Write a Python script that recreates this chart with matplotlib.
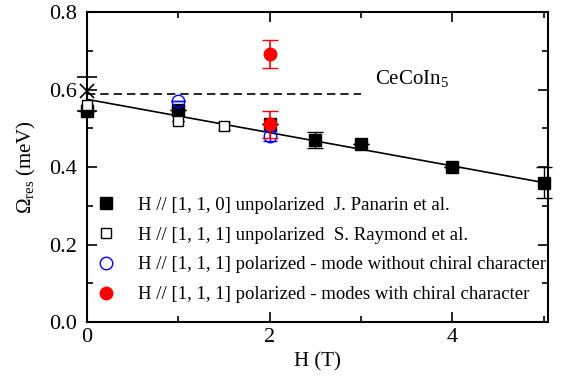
import numpy as np
import matplotlib.pyplot as plt

plt.rcParams['font.family'] = ['Liberation Serif', 'DejaVu Serif']
plt.rcParams['mathtext.fontset'] = 'custom'
plt.rcParams['mathtext.rm'] = 'Liberation Serif'
plt.rcParams['mathtext.it'] = 'Liberation Serif:italic'

# J. Panarin et al., H // [1,1,0] unpolarized
h_pan = [0, 1, 2, 2.5, 3, 4, 5]
w_pan = [0.545, 0.547, 0.512, 0.47, 0.459, 0.40, 0.36]
e_pan = [0, 0, 0, 0.02, 0, 0, 0.04]

# S. Raymond et al., H // [1,1,1] unpolarized
h_ray = [0, 1, 1.5]
w_ray = [0.56, 0.52, 0.507]
e_ray = [0, 0, 0.01]

# polarized, mode without chiral character
h_blue = [1, 2]
w_blue = [0.57, 0.48]
e_blue = [0, 0.012]

# polarized, modes with chiral character
h_red = [2, 2]
w_red = [0.692, 0.511]
e_red = [0.036, 0.035]

# zero field point (cross), lower error hidden behind the squares
h_x = [0]
w_x = [0.597]
e_x_low = [0.052]
e_x_up = [0.035]

# lines
fit_h = [0, 5]
fit_w = [0.575, 0.36]
dash_h = [0, 3]
dash_w = [0.588, 0.588]

fig = plt.figure(figsize=(5.61, 3.81), dpi=100)
ax = fig.add_axes([0.155, 0.155, 0.822, 0.813])

ax.plot(fit_h, fit_w, '-', color='k', lw=1.2)
ax.plot(dash_h, dash_w, '--', color='k', lw=1.2, dashes=(5, 3))

ax.errorbar(h_x, w_x, yerr=[e_x_low, e_x_up], fmt='x', color='k', ms=10, mew=1.2,
            capsize=7.5, elinewidth=1.2, clip_on=False, zorder=2)
ax.errorbar(h_pan, w_pan, yerr=e_pan, fmt='s', color='k', ms=8,
            capsize=6, elinewidth=1.0, clip_on=False, zorder=3,
            label='H // [1, 1, 0] unpolarized  J. Panarin et al.')
ax.errorbar(h_ray, w_ray, yerr=e_ray, fmt='s', color='k', mfc='white', ms=7.5,
            mew=1.0, capsize=4, elinewidth=1.0, clip_on=False, zorder=4,
            label='H // [1, 1, 1] unpolarized  S. Raymond et al.')
ax.errorbar(h_blue, w_blue, yerr=e_blue, fmt='o', color='blue', mfc='none',
            ms=9, mew=1.0, capsize=5, elinewidth=1.0, zorder=5,
            label='H // [1, 1, 1] polarized - mode without chiral character')
ax.errorbar(h_red, w_red, yerr=e_red, fmt='o', color='red', ms=9,
            capsize=6, elinewidth=1.2, zorder=6,
            label='H // [1, 1, 1] polarized - modes with chiral character')

ax.text(3.15, 0.63, 'CeCoIn$_5$', fontsize=15, ha='left', va='center')

handles, labels = ax.get_legend_handles_labels()
ax.legend([h[0] for h in handles], labels,
          loc='lower left', bbox_to_anchor=(0.0, 0.03), frameon=False,
          fontsize=13.5, handletextpad=1.2, labelspacing=0.68,
          handlelength=1.0, borderaxespad=0.3, borderpad=0.2)

ax.set_xlim(0, 5.05)
ax.set_ylim(0, 0.8)
ax.set_xticks([0, 2, 4])
ax.set_xticks([1, 3, 5], minor=True)
ax.set_yticks(np.arange(0, 0.81, 0.2))
ax.set_yticks(np.arange(0.1, 0.8, 0.2), minor=True)
ax.tick_params(which='both', direction='in', top=True, right=True, width=1.2)
ax.tick_params(which='major', length=7, labelsize=16, pad=7)
ax.tick_params(axis='x', which='major', pad=4)
ax.tick_params(which='minor', length=4)
ax.yaxis.set_major_formatter(plt.FormatStrFormatter('%.1f'))
for s in ax.spines.values():
    s.set_linewidth(1.5)

ax.set_xlabel('H (T)', fontsize=15, labelpad=4)
ax.set_ylabel(r'$\Omega_{\rm res}$ (meV)', fontsize=15, labelpad=8)

fig.savefig('out.png', dpi=100)
